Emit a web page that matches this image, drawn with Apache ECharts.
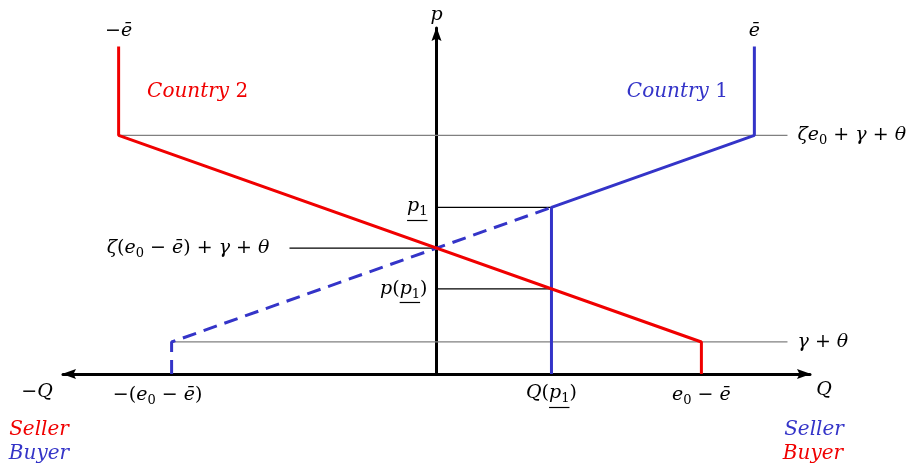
<!DOCTYPE html>
<html><head><meta charset="utf-8">
<script src="https://cdn.jsdelivr.net/npm/echarts@6/dist/echarts.min.js"></script>
<style>html,body{margin:0;padding:0;background:#fff}#chart{width:912px;height:468px}</style>
</head><body><div id="chart"></div>
<script>
// Quantity levels (horizontal axis)
const eBar = 1.2;            // ē
const e0MinusEBar = 1.0;     // e0 − ē
const qOfP1 = 0.434;         // Q(p1)
const qAxisEnd = 1.41;
const guideEnd = 1.325;      // right end of the thin price guides
const crossGuideStart = -0.555;

// Price levels (vertical axis)
const gammaTheta = 1.0;      // γ + θ
const topPrice = 7.45;       // ζe0 + γ + θ
const crossPrice = 3.93;     // ζ(e0 − ē) + γ + θ
const p1 = 5.2;
const pOfP1 = 2.66;
const capPrice = 10.22;      // top of the vertical segments at ±ē
const pAxisEnd = 10.8;

// Schedules
const country2 = [[-eBar, capPrice], [-eBar, topPrice], [e0MinusEBar, gammaTheta], [e0MinusEBar, 0]];
const country1Solid = [[qOfP1, 0], [qOfP1, p1], [eBar, topPrice], [eBar, capPrice]];
const country1Dashed = [[-e0MinusEBar, 0], [-e0MinusEBar, gammaTheta], [qOfP1, p1]];

const RED = '#f00000';
const BLUE = '#3434c8';
const FAMILY = '"DejaVu Serif"';
const MATH_SIZE = 19;
const WORD_SIZE = 20;

const chart = echarts.init(document.getElementById('chart'));

function seg(data, color, width, type, z) {
  return {
    type: 'line', data: data, symbol: 'none', animation: false, silent: true, z: z,
    lineStyle: { color: color, width: width, type: type || 'solid' }
  };
}

const ARROW = 'path://M5,0L10,14L5,11.5L0,14Z';

chart.setOption({
  animation: false,
  grid: { left: 63, right: 102, top: 28, bottom: 94 },
  xAxis: {
    type: 'value', min: -qAxisEnd, max: qAxisEnd,
    axisLine: { onZero: true, lineStyle: { color: '#000', width: 3 },
      symbol: [ARROW, ARROW], symbolSize: [11, 14], symbolOffset: [6, -6] },
    axisTick: { show: false }, axisLabel: { show: false }, splitLine: { show: false }
  },
  yAxis: {
    type: 'value', min: 0, max: pAxisEnd,
    axisLine: { show: true, onZero: true, lineStyle: { color: '#000', width: 3 },
      symbol: ['none', ARROW], symbolSize: [11, 14], symbolOffset: [0, -6] },
    axisTick: { show: false }, axisLabel: { show: false }, splitLine: { show: false }
  },
  series: [
    seg([[-eBar, topPrice], [guideEnd, topPrice]], '#808080', 1.2, 'solid', 1),
    seg([[-e0MinusEBar, gammaTheta], [guideEnd, gammaTheta]], '#808080', 1.2, 'solid', 1),
    seg([[crossGuideStart, crossPrice], [0, crossPrice]], '#000', 1.2, 'solid', 1),
    seg([[0, p1], [qOfP1, p1]], '#000', 1.2, 'solid', 1),
    seg([[0, pOfP1], [qOfP1, pOfP1]], '#000', 1.2, 'solid', 1),
    seg(country1Dashed, BLUE, 3, [14, 8], 2),
    seg(country1Solid, BLUE, 3, 'solid', 2),
    seg(country2, RED, 3, 'solid', 3)
  ]
});

// Text annotations. Markup: "_x" = subscript x, "[...]" = underlined span.
// Letters are set in italic, digits and operators upright.
const labels = [
  { t: '−ē', at: [-eBar, capPrice], d: [0, -16], a: 'center', s: MATH_SIZE, c: '#000' },
  { t: 'ē', at: [eBar, capPrice], d: [0, -16], a: 'center', s: MATH_SIZE, c: '#000' },
  { t: 'p', at: [0, pAxisEnd], d: [0, -13], a: 'center', s: MATH_SIZE, c: '#000' },
  { t: 'Country 2', at: [-eBar, topPrice], d: [79, -44], a: 'center', s: WORD_SIZE, c: RED },
  { t: 'Country 1', at: [eBar, topPrice], d: [-77, -44], a: 'center', s: WORD_SIZE, c: BLUE },
  { t: 'ζe_0 + γ + θ', at: [guideEnd, topPrice], d: [10, 0], a: 'left', s: MATH_SIZE, c: '#000' },
  { t: 'γ + θ', at: [guideEnd, gammaTheta], d: [10, 0], a: 'left', s: MATH_SIZE, c: '#000' },
  { t: 'ζ(e_0 − ē) + γ + θ', at: [crossGuideStart, crossPrice], d: [-20, 0], a: 'right', s: MATH_SIZE, c: '#000' },
  { t: '[p_1]', at: [0, p1], d: [-9, -1], a: 'right', s: MATH_SIZE, c: '#000' },
  { t: 'p([p_1])', at: [0, pOfP1], d: [-9, 0], a: 'right', s: MATH_SIZE, c: '#000' },
  { t: '−Q', at: [-qAxisEnd, 0], d: [-26, 18], a: 'center', s: MATH_SIZE, c: '#000' },
  { t: '−(e_0 − ē)', at: [-e0MinusEBar, 0], d: [-14, 21], a: 'center', s: MATH_SIZE, c: '#000' },
  { t: 'Q([p_1])', at: [qOfP1, 0], d: [0, 19], a: 'center', s: MATH_SIZE, c: '#000' },
  { t: 'e_0 − ē', at: [e0MinusEBar, 0], d: [0, 21], a: 'center', s: MATH_SIZE, c: '#000' },
  { t: 'Q', at: [qAxisEnd, 0], d: [14, 16], a: 'center', s: MATH_SIZE, c: '#000' },
  { t: 'Seller', at: [-qAxisEnd, 0], d: [-24, 56], a: 'center', s: WORD_SIZE, c: RED },
  { t: 'Buyer', at: [-qAxisEnd, 0], d: [-24, 80], a: 'center', s: WORD_SIZE, c: BLUE },
  { t: 'Seller', at: [qAxisEnd, 0], d: [4, 56], a: 'center', s: WORD_SIZE, c: BLUE },
  { t: 'Buyer', at: [qAxisEnd, 0], d: [3, 80], a: 'center', s: WORD_SIZE, c: RED }
];

const measureCtx = document.createElement('canvas').getContext('2d');
const LETTER = /[A-Za-z\u0113\u03b1-\u03c9]/;

function runsOf(src, size) {
  const runs = [];
  let under = false;
  for (let i = 0; i < src.length; i++) {
    let ch = src[i];
    if (ch === '[') { under = true; continue; }
    if (ch === ']') { under = false; continue; }
    let kind;
    if (ch === '_') { ch = src[++i]; kind = 'sub'; }
    else kind = LETTER.test(ch) ? 'ital' : 'up';
    const last = runs[runs.length - 1];
    if (last && last.kind === kind && last.under === under) last.text += ch;
    else runs.push({ text: ch, kind: kind, under: under });
  }
  runs.forEach(function (r) {
    r.font = r.kind === 'ital' ? 'italic ' + size + 'px ' + FAMILY
      : r.kind === 'sub' ? Math.round(size * 0.68) + 'px ' + FAMILY
      : size + 'px ' + FAMILY;
    r.dy = r.kind === 'sub' ? size * 0.3 : 0;
    measureCtx.font = r.font;
    r.w = measureCtx.measureText(r.text).width;
  });
  return runs;
}

const elements = [];
labels.forEach(function (l) {
  const p = chart.convertToPixel({ gridIndex: 0 }, l.at);
  const runs = runsOf(l.t, l.s);
  const total = runs.reduce(function (s, r) { return s + r.w; }, 0);
  let x = p[0] + l.d[0] - (l.a === 'right' ? total : l.a === 'center' ? total / 2 : 0);
  const y = p[1] + l.d[1];
  let u0 = null, u1 = null;
  runs.forEach(function (r) {
    elements.push({
      type: 'text', silent: true, z: 10,
      style: { text: r.text, x: x, y: y + r.dy, fill: l.c, font: r.font,
        textAlign: 'left', textVerticalAlign: 'middle' }
    });
    if (r.under) { if (u0 === null) u0 = x; u1 = x + r.w; }
    x += r.w;
  });
  if (u0 !== null) {
    const uy = Math.round(y + l.s * 0.72) + 0.5;
    elements.push({
      type: 'line', silent: true, z: 10,
      shape: { x1: u0, y1: uy, x2: u1, y2: uy },
      style: { stroke: l.c, lineWidth: 1.2 }
    });
  }
});

chart.setOption({ graphic: elements });
</script>
</body></html>
